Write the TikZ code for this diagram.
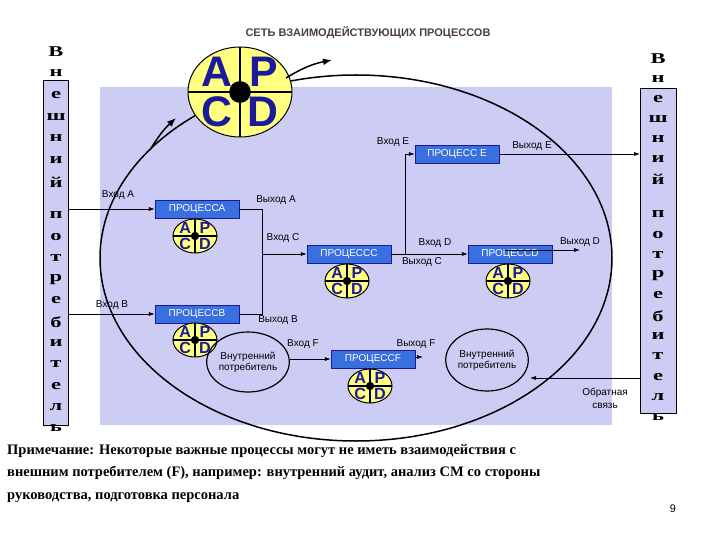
\documentclass[tikz,border=0pt]{standalone}
\usepackage{fontspec}
\setmainfont{Liberation Sans}
\newfontfamily\serifb{Liberation Serif}
\usetikzlibrary{arrows.meta,shapes.geometric}
\definecolor{lav}{HTML}{CCCCF5}
\definecolor{pblue}{HTML}{3A6FE0}
\definecolor{pyel}{HTML}{FFFF80}
\definecolor{pnavy}{HTML}{1A1A9A}
\tikzset{
 procbox/.style={draw=pnavy,fill=pblue,text=white,minimum width=84pt,minimum height=18pt,inner sep=0pt,font=\fontsize{10}{10}\selectfont},
 lbl/.style={font=\fontsize{10}{10}\selectfont,inner sep=1pt},
 conn/.style={draw,line width=0.6pt,-{Latex[length=6pt,width=4pt]}},
 plain/.style={draw,line width=0.6pt},
 vl/.style={font=\serifb\bfseries\fontsize{15}{15}\selectfont,xscale=1.5,inner sep=0pt},
 cust/.style={draw,line width=1.2pt,ellipse,inner sep=0pt},
}
\newcommand{\pdca}[4]{% x y rx ry
 \pgfmathsetmacro{\pfs}{#4*0.95}%
 \pgfmathsetmacro{\plw}{#4*0.08}%
 \begin{scope}[shift={(#1,#2)}]
  \fill[pyel,draw=black,line width=1pt] (0,0) ellipse ({#3} and {#4});
  \draw[line width=1.2pt] (-#3,0)--(#3,0) (0,-#4)--(0,#4);
  \fill (0,0) circle ({0.22*#4});
  \draw[line width=\plw pt] (0,0) circle ({0.2*#4});
  \node[text=pnavy,font=\bfseries\fontsize{\pfs}{\pfs}\selectfont] at ({-0.45*#3},{-0.45*#4}) {A};
  \node[text=pnavy,font=\bfseries\fontsize{\pfs}{\pfs}\selectfont] at ({0.45*#3},{-0.45*#4}) {P};
  \node[text=pnavy,font=\bfseries\fontsize{\pfs}{\pfs}\selectfont] at ({-0.45*#3},{0.45*#4}) {C};
  \node[text=pnavy,font=\bfseries\fontsize{\pfs}{\pfs}\selectfont] at ({0.45*#3},{0.45*#4}) {D};
 \end{scope}}
\begin{document}
\begin{tikzpicture}[x=1pt,y=-1pt]
\useasboundingbox[fill=white] (0,0) rectangle (720,540);
% background
\fill[lav] (100,87) rectangle (612,425);
\fill[lav,draw=black,line width=0.6pt] (43,80) rectangle (68,425);
\fill[lav,draw=black,line width=0.6pt] (640,88) rectangle (676,413);
% title
\node[font=\bfseries\fontsize{11}{11}\selectfont,text=black!80!magenta] (title) at (368,33) {СЕТЬ ВЗАИМОДЕЙСТВУЮЩИХ ПРОЦЕССОВ};
% vertical letters
\foreach \c [count=\i] in {В,н,е,ш,н,и,й}
  \node[vl] at (56,{30+\i*21.7}) {\c};
\foreach \c [count=\i] in {п,о,т,р,е,б,и,т,е,л,ь}
  \node[vl] at (56,{194+\i*21.3}) {\c};
\foreach \c [count=\i] in {В,н,е,ш,н,и,й}
  \node[vl] at (658,{39+\i*20}) {\c};
\foreach \c [count=\i] in {п,о,т,р,е,б,и,т,е,л,ь}
  \node[vl] at (658,{194+\i*20.3}) {\c};
% big ellipse
\draw[line width=1.5pt] (356,258) ellipse (256 and 183);
% big PDCA
\pdca{240}{92}{52}{45}
\draw[line width=1.5pt,-{Latex[length=9pt,width=7pt]}] (286,78) to[bend left=10] (332,60);
\draw[line width=1.5pt,-{Latex[length=9pt,width=7pt]}] (150,150) to[bend left=8] (176,118);
% process boxes
\node[procbox] (A) at (197,209) {ПРОЦЕССА};
\node[procbox] (B) at (197,314) {ПРОЦЕССВ};
\node[procbox] (C) at (349,254) {ПРОЦЕССС};
\node[procbox] (D) at (510,254) {ПРОЦЕССD};
\node[procbox] (E) at (457,154) {ПРОЦЕСС E};
\node[procbox] (F) at (373,359) {ПРОЦЕССF};
\pdca{195}{236}{22}{17}
\pdca{195}{340}{22}{17}
\pdca{347}{281}{22}{17}
\pdca{508}{281}{22}{17}
\pdca{370}{386}{22}{17}
% internal customers
\node[cust,minimum width=78pt,minimum height=60pt,align=center,font=\fontsize{10}{11}\selectfont] (IC1) at (248,362) {Внутренний\\потребитель};
\node[cust,minimum width=72pt,minimum height=62pt,align=center,font=\fontsize{10}{11}\selectfont] (IC2) at (487,360) {Внутренний\\потребитель};
% connectors
\coordinate (la) at (68,209); \coordinate (lb) at (68,314);
\draw[conn] (la) -- (A.west);
\draw[conn] (lb) -- (B.west);
\coordinate (jab) at (262,254);
\draw[plain] (A.east) -| (262,314) -- (B.east);
\draw[conn] (jab) -- (C.west);
\draw[conn] (C.east) -- (D.west);
\coordinate (jce) at (405,254);
\draw[conn] (jce) |- (E.west);
\coordinate (re) at (640,154);
\draw[conn] (E.east) -- (re);
\coordinate (dout) at (580,250);
\draw[conn] (505,250) -- (dout);
\draw[conn] (IC1.east |- F.west) -- (F.west);
\coordinate (fout) at (423,357);
\draw[conn] (F.east |- fout) -- (fout);
\coordinate (fb1) at (640,378); \coordinate (fb2) at (530,378);
\draw[conn] (fb1) -- (fb2);
% labels
\node[lbl] at (118,195) {Вход A};
\node[lbl] at (276,200) {Выход A};
\node[lbl] at (283,238) {Вход C};
\node[lbl] at (112,305) {Вход B};
\node[lbl] at (278,320) {Выход B};
\node[lbl] at (303,344) {Вход F};
\node[lbl] at (416,344) {Выход F};
\node[lbl] at (393,142) {Вход E};
\node[lbl] at (532,146) {Выход E};
\node[lbl] at (435,243) {Вход D};
\node[lbl] at (422,262) {Выход C};
\node[lbl] at (580,242) {Выход D};
\node[lbl,align=center,font=\fontsize{10}{13}\selectfont] at (605,398) {Обратная\\связь};
% note
\node[anchor=north west,align=left,font=\serifb\bfseries\fontsize{14.5}{22.5}\selectfont,inner sep=0pt] (note) at (7,444)
 {Примечание: Некоторые важные процессы могут не иметь взаимодействия с\\внешним потребителем (F), например: внутренний аудит, анализ СМ со стороны\\руководства, подготовка персонала};
\node[font=\fontsize{11}{11}\selectfont] (pg) at (673,509) {9};
\end{tikzpicture}
\end{document}
